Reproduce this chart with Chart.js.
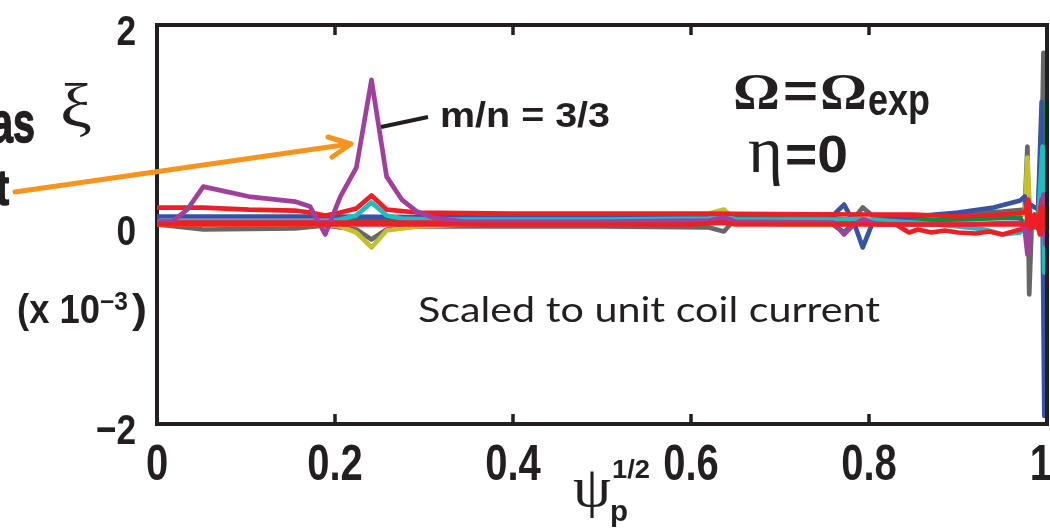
<!DOCTYPE html>
<html>
<head>
<meta charset="utf-8">
<script src="https://cdn.jsdelivr.net/npm/chart.js@4.4.1/dist/chart.umd.min.js"></script>
<style>
html,body{margin:0;padding:0;background:#fff;}
#c{display:block;}
</style>
</head>
<body>
<canvas id="c" width="1050" height="529"></canvas>
<script>
// ---- tick labels ----
const xTicks = [0, 0.2, 0.4, 0.6, 0.8, 1];
const yTicks = [-2, 0, 2];

// ---- series: [psi_p^(1/2), xi (x 1e-3)] ----
const seriesPurple = [[0,0.03],[0.017,0.03],[0.034,0.15],[0.052,0.38],[0.103,0.28],[0.155,0.23],[0.172,0.18],[0.189,-0.1],[0.206,0.28],[0.224,0.57],[0.241,1.45],[0.258,0.48],[0.275,0.25],[0.292,0.13],[0.31,0.07],[0.344,0.03],[0.5,0.03],[0.62,0.04],[0.637,0.07],[0.65,0.03],[0.76,0.02],[0.772,-0.1],[0.783,0.0],[0.793,0.05],[0.81,0.0],[0.9,0.0],[0.97,0.02],[0.975,-0.05],[0.978,-0.3],[0.981,0.0],[0.993,-0.05],[0.996,0.3],[0.998,-0.2],[1.0,0.0]];
const seriesRedTop = [[0,0.17],[0.052,0.17],[0.103,0.15],[0.155,0.14],[0.172,0.12],[0.189,0.09],[0.206,0.12],[0.224,0.16],[0.241,0.29],[0.258,0.15],[0.292,0.12],[0.4,0.11],[0.6,0.11],[0.8,0.1],[0.85,0.1],[0.9,0.08],[0.95,0.1],[0.975,0.12],[0.979,0.25],[0.982,0.0],[0.986,0.1],[0.99,0.0],[0.994,0.25],[0.997,-0.1],[1.0,0.05]];
const seriesRedZero = [[0,0.0],[0.3,0.0],[0.6,0.0],[0.637,0.02],[0.65,0.0],[0.8,0.0],[0.9,0.0],[0.97,0.0],[0.977,0.0],[0.979,0.2],[0.982,-0.05],[0.988,0.05],[0.992,-0.1],[0.995,0.18],[0.998,-0.05],[1.0,0.0]];
const seriesRedLow = [[0,0.02],[0.4,0.02],[0.8,0.01],[0.83,0.0],[0.845,-0.08],[0.855,-0.05],[0.87,-0.08],[0.885,-0.06],[0.9,-0.08],[0.92,-0.09],[0.935,-0.07],[0.95,-0.1],[0.97,-0.05],[0.98,-0.02],[1.0,0.0]];
const seriesBlue = [[0,0.08],[0.2,0.08],[0.4,0.07],[0.6,0.06],[0.755,0.05],[0.772,0.2],[0.783,0.02],[0.793,-0.23],[0.805,0.04],[0.85,0.08],[0.9,0.12],[0.94,0.17],[0.97,0.24],[0.975,0.28],[0.978,0.1],[0.981,0.2],[0.99,0.15],[0.994,1.23],[0.997,-1.92],[1.0,0.2]];
const seriesGreen = [[0,0.03],[0.2,0.03],[0.241,0.05],[0.3,0.05],[0.5,0.06],[0.62,0.07],[0.637,0.09],[0.65,0.06],[0.755,0.03],[0.772,-0.08],[0.783,0.02],[0.8,0.03],[0.9,0.05],[0.97,0.07],[0.978,-0.1],[0.981,0.05],[0.99,0.1],[0.995,1.22],[0.997,-0.82],[1.0,0.1]];
const seriesCyan = [[0,0.03],[0.189,0.03],[0.206,0.05],[0.224,0.09],[0.241,0.22],[0.258,0.09],[0.275,0.06],[0.31,0.05],[0.5,0.05],[0.62,0.06],[0.637,0.1],[0.65,0.05],[0.77,0.05],[0.783,0.06],[0.85,0.02],[0.9,-0.02],[0.93,-0.05],[0.95,-0.1],[0.97,-0.08],[0.978,0.05],[0.982,-0.05],[0.99,0.0],[0.995,0.78],[0.997,-0.48],[1.0,-0.1]];
const seriesOlive = [[0,0.0],[0.189,0.0],[0.206,-0.02],[0.224,-0.08],[0.241,-0.23],[0.258,-0.06],[0.292,-0.02],[0.4,0.02],[0.5,0.05],[0.62,0.11],[0.637,0.15],[0.65,0.04],[0.7,0.0],[0.77,0.0],[0.783,0.1],[0.8,0.02],[0.9,0.04],[0.95,0.07],[0.975,0.1],[0.978,0.67],[0.981,0.1],[0.99,0.05],[0.995,0.3],[0.998,-0.1],[1.0,0.0]];
const seriesGray = [[0,0.0],[0.052,-0.05],[0.155,-0.04],[0.189,-0.01],[0.224,-0.05],[0.241,-0.15],[0.258,-0.05],[0.292,-0.02],[0.5,-0.02],[0.62,-0.03],[0.637,-0.07],[0.65,0.06],[0.675,0.09],[0.75,0.08],[0.772,0.05],[0.783,0.06],[0.793,0.17],[0.805,0.08],[0.85,0.08],[0.9,0.11],[0.95,0.13],[0.975,0.15],[0.978,0.78],[0.98,-0.7],[0.983,0.05],[0.993,0.1],[0.996,1.72],[0.998,-0.3],[1.0,0.0]];

const C = {
  purple:'#a1409c', red:'#ed1f24', blue:'#3953a4', cyan:'#21bcc0',
  green:'#0f8a43', olive:'#c3c02d', gray:'#676767'
};

function ds(data, color){
  return {data, borderColor: color, borderWidth: 4.7, pointRadius: 0, tension: 0,
          borderJoinStyle: 'round', borderCapStyle: 'round', fill: false};
}

const SANS = "'Liberation Sans',Arial,sans-serif";
const SERIF = "'Liberation Serif','DejaVu Serif',serif";
const INK = '#231f20';

function xLabel(v){ return String(v); }
function yLabel(v){ return v < 0 ? '−' + Math.abs(v) : String(v); }

// draws text at left x (or right/center x) on baseline; w = target width, or sx = x-scale factor
function fitText(ctx, s, x, baseline, font, w, align, sx0, stroke){
  ctx.font = font;
  const m = ctx.measureText(s).width;
  const sx = w ? w / m : (sx0 || 1);
  let left = x;
  if (align === 'right') left = x - m * sx;
  else if (align === 'center') left = x - m * sx / 2;
  ctx.save();
  ctx.translate(left, baseline);
  ctx.scale(sx, 1);
  ctx.textAlign = 'left';
  ctx.textBaseline = 'alphabetic';
  ctx.fillStyle = INK;
  ctx.fillText(s, 0, 0);
  if (stroke) { ctx.strokeStyle = INK; ctx.lineWidth = stroke; ctx.lineJoin = 'round'; ctx.strokeText(s, 0, 0); }
  ctx.restore();
  return m * sx;
}

const decor = {
  id: 'decor',
  afterDraw(chart){
    const ctx = chart.ctx;
    const a = chart.chartArea;
    const xs = chart.scales.x, ys = chart.scales.y;
    ctx.save();
    // top & right frame
    ctx.strokeStyle = INK; ctx.lineWidth = 4; ctx.lineCap = 'square';
    ctx.beginPath();
    ctx.moveTo(a.left, a.top); ctx.lineTo(a.right, a.top); ctx.lineTo(a.right, a.bottom);
    ctx.stroke();
    // inward ticks
    ctx.lineWidth = 3.5; ctx.lineCap = 'butt';
    xs.ticks.forEach(t => {
      if (t.value <= xs.min || t.value >= xs.max) return;
      const p = xs.getPixelForValue(t.value);
      ctx.beginPath();
      ctx.moveTo(p, a.bottom); ctx.lineTo(p, a.bottom - 10);
      ctx.moveTo(p, a.top); ctx.lineTo(p, a.top + 10);
      ctx.stroke();
    });
    // orange arrow
    ctx.strokeStyle = '#f7941d'; ctx.lineWidth = 5; ctx.lineCap = 'round'; ctx.lineJoin = 'round';
    ctx.beginPath(); ctx.moveTo(15, 192); ctx.lineTo(350, 144); ctx.stroke();
    ctx.beginPath(); ctx.moveTo(328, 137); ctx.lineTo(351, 144); ctx.lineTo(332, 157); ctx.stroke();
    // leader for m/n label
    ctx.strokeStyle = INK; ctx.lineWidth = 4; ctx.lineCap = 'butt';
    ctx.beginPath(); ctx.moveTo(381, 127); ctx.lineTo(428, 117); ctx.stroke();
    ctx.restore();

    // tick labels, positioned by the library scales
    xs.ticks.forEach(t => {
      const p = xs.getPixelForValue(t.value);
      const s = xLabel(t.value);
      const f = 'bold 50px ' + SANS;
      ctx.font = f;
      const w = ctx.measureText(s).width * 0.8;
      let cx = p;
      if (cx + w / 2 > 1052) cx = 1052 - w / 2;
      fitText(ctx, s, cx, a.bottom + 56, f, 0, 'center', 0.8);
    });
    ys.ticks.forEach(t => {
      const p = ys.getPixelForValue(t.value);
      fitText(ctx, yLabel(t.value), 136, p + 20, 'bold 43px ' + SANS, 0, 'right', 0.82);
    });

    // texts
    fitText(ctx, 'as', 35, 142, 'bold 58px ' + SANS, 44, 'right', 0, 1.5);
    fitText(ctx, 't', 9, 205, 'bold 50px ' + SANS, 0, 'right', 0.8, 1.5);
    fitText(ctx, 'ξ', 60, 126, '62px ' + SERIF, 32);
    fitText(ctx, '(x 10', 17, 323, 'bold 40px ' + SANS, 83);
    fitText(ctx, '−3', 100, 310, 'bold 25px ' + SANS, 28);
    fitText(ctx, ')', 132, 323, 'bold 40px ' + SANS, 15);
    fitText(ctx, 'm/n = 3/3', 440, 127, 'bold 35px ' + SANS, 170);
    fitText(ctx, 'Ω', 733, 108, 'bold 50px ' + SERIF, 47);
    fitText(ctx, '=', 783, 108, 'bold 48px ' + SANS, 35);
    fitText(ctx, 'Ω', 820, 108, 'bold 50px ' + SERIF, 47);
    fitText(ctx, 'exp', 868, 115, 'bold 44px ' + SANS, 62);
    fitText(ctx, 'η', 748, 172, '66px ' + SERIF, 35);
    fitText(ctx, '=0', 785, 172, 'bold 52px ' + SANS, 63);
    fitText(ctx, 'Scaled to unit coil current', 418, 322, "35px Lato,'Open Sans',sans-serif", 462);
    fitText(ctx, 'ψ', 573, 506, '56px ' + SERIF, 38);
    fitText(ctx, '1/2', 612, 478, 'bold 25px ' + SANS, 38);
    fitText(ctx, 'p', 610, 521, 'bold 29px ' + SANS, 18);
  }
};

new Chart(document.getElementById('c'), {
  type: 'line',
  data: {
    datasets: [
      ds(seriesRedZero, C.red),
      ds(seriesPurple, C.purple),
      ds(seriesRedTop, C.red),
      ds(seriesRedLow, C.red),
      ds(seriesCyan, C.cyan),
      ds(seriesBlue, C.blue),
      ds(seriesGreen, C.green),
      ds(seriesOlive, C.olive),
      ds(seriesGray, C.gray)
    ]
  },
  options: {
    responsive: false,
    animation: false,
    events: [],
    layout: { padding: { top: 25, right: 3, left: 0, bottom: 0 } },
    plugins: { legend: { display: false }, tooltip: { enabled: false } },
    scales: {
      x: {
        type: 'linear', min: 0, max: 1,
        afterBuildTicks: s => { s.ticks = xTicks.map(v => ({ value: v })); },
        afterFit: s => { s.height = 105; s.paddingLeft = 0; s.paddingRight = 0; },
        grid: { display: false, drawTicks: false },
        border: { display: true, color: INK, width: 4 },
        ticks: { display: false, autoSkip: false }
      },
      y: {
        type: 'linear', min: -2, max: 2,
        afterBuildTicks: s => { s.ticks = yTicks.map(v => ({ value: v })); },
        afterFit: s => { s.width = 157; s.paddingTop = 0; s.paddingBottom = 0; },
        grid: { display: false, drawTicks: false },
        border: { display: true, color: INK, width: 4 },
        ticks: { display: false, autoSkip: false }
      }
    }
  },
  plugins: [decor]
});
</script>
</body>
</html>
